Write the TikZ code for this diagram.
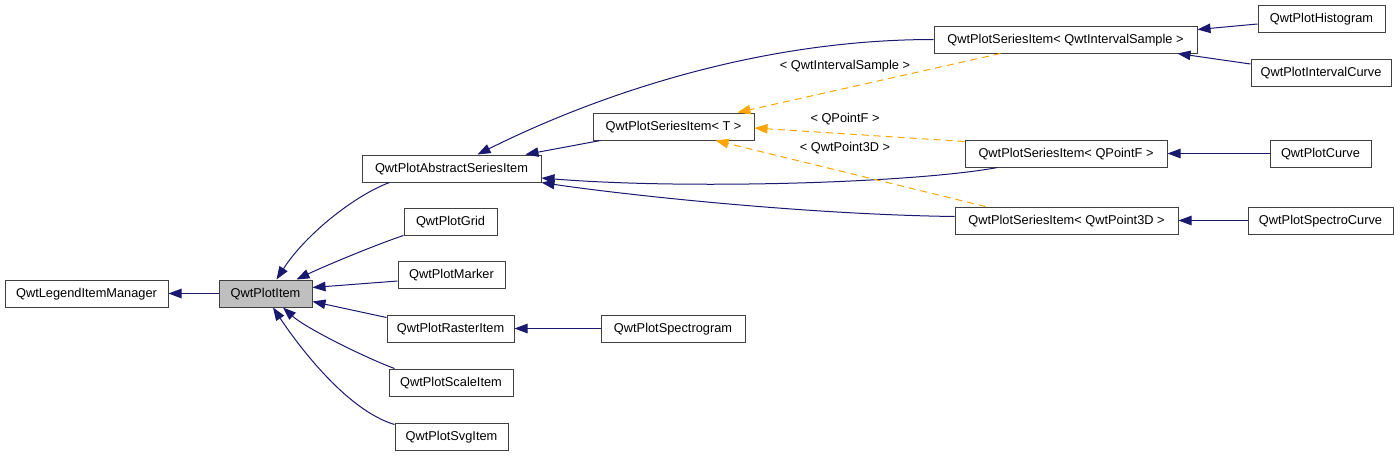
\documentclass[tikz,border=0pt]{standalone}
\usepackage{fontspec}
\setmainfont{Liberation Sans}
\usetikzlibrary{arrows.meta,calc}
\definecolor{edgeblue}{HTML}{191970}
\definecolor{edgeorange}{HTML}{FFA500}
\definecolor{boxgray}{HTML}{BFBFBF}
\definecolor{boxline}{HTML}{404040}
\begin{document}
\begin{tikzpicture}[x=1pt,y=-1pt,
  cls/.style={draw=boxline,line width=1pt,minimum height=27pt,inner sep=0pt,
    text height=9.7pt,text depth=2.5pt,
    font=\fontsize{12.8}{14}\selectfont,fill=white},
  inh/.style={draw=edgeblue,line width=1pt,-{Triangle[length=13pt,width=9.5pt]}},
  tmpl/.style={draw=edgeorange,line width=1pt,dash pattern=on 7pt off 5pt,
    -{Triangle[length=13pt,width=9.5pt]}},
  lbl/.style={font=\fontsize{12.8}{14}\selectfont,inner sep=0pt,text height=9.7pt,text depth=2.5pt}]
\useasboundingbox[fill=white] (0,0) rectangle (1400,456);
% nodes
\node[cls,minimum width=163pt] (lim) at (86.5,293.5) {QwtLegendItemManager};
\node[cls,minimum width=93pt,fill=boxgray] (item) at (265.5,293.5) {QwtPlotItem};
\node[cls,minimum width=179pt] (abs) at (451.5,168.5) {QwtPlotAbstractSeriesItem};
\node[cls,minimum width=93pt] (grid) at (450.5,221.5) {QwtPlotGrid};
\node[cls,minimum width=107pt] (marker) at (451.5,275) {QwtPlotMarker};
\node[cls,minimum width=127pt] (raster) at (450.5,328.5) {QwtPlotRasterItem};
\node[cls,minimum width=124pt] (scale) at (451,382.5) {QwtPlotScaleItem};
\node[cls,minimum width=113pt] (svg) at (451.5,436.5) {QwtPlotSvgItem};
\node[cls,minimum width=144pt] (spg) at (673,328.5) {QwtPlotSpectrogram};
\node[cls,minimum width=161pt] (T) at (673.5,126.5) {QwtPlotSeriesItem< T >};
\node[cls,minimum width=263pt] (int) at (1065.5,39.5) {QwtPlotSeriesItem< QwtIntervalSample >};
\node[cls,minimum width=202pt] (qpf) at (1066,153.5) {QwtPlotSeriesItem< QPointF >};
\node[cls,minimum width=223pt] (p3d) at (1066.5,220.5) {QwtPlotSeriesItem< QwtPoint3D >};
\node[cls,minimum width=127pt] (hist) at (1321.5,19) {QwtPlotHistogram};
\node[cls,minimum width=140pt] (ic) at (1321,73) {QwtPlotIntervalCurve};
\node[cls,minimum width=101pt] (curve) at (1320.5,153.5) {QwtPlotCurve};
\node[cls,minimum width=145pt] (sc) at (1320.5,220.5) {QwtPlotSpectroCurve};
% inheritance edges
\draw[inh] (item.west) -- (lim.east);
\draw[inh] ($(abs.south west)+(28,0)$) .. controls +(-35,13) and +(29,-45) .. ($(item.north)+(11,0)$);
\draw[inh] (grid.south west) .. controls +(-30,10) and +(25,-12) .. ($(item.north east)+(-16,0)$);
\draw[inh] ($(marker.west)+(0,6)$) -- ($(item.east)+(0,-6)$);
\draw[inh] ($(raster.north west)+(0,3)$) -- ($(item.east)+(0,8)$);
\draw[inh] ($(scale.north west)+(6,0)$) .. controls +(-32,-12) and +(22,20) .. ($(item.south)+(17.5,0)$);
\draw[inh] ($(svg.north west)+(0,2)$) .. controls +(-50,-15) and +(22,33) .. ($(item.south)+(7.5,0)$);
\draw[inh] (spg.west) -- (raster.east);
\draw[inh] ($(T.south west)+(8,0)$) -- ($(abs.north east)+(-16,0)$);
\draw[inh] (int.west) .. controls +(-190,0) and +(100,-50) .. ($(abs.north east)+(-64,0)$);
\draw[inh] ($(qpf.south west)+(33,0)$) .. controls +(-80,15) and +(150,12) .. ($(abs.east)+(0,9.5)$);
\draw[inh] ($(p3d.west)+(0,-4)$) .. controls +(-150,-2) and +(80,12) .. (abs.south east);
\draw[inh] ($(hist.west)+(0,5)$) -- ($(int.east)+(0,-10)$);
\draw[inh] ($(ic.north west)+(0,5)$) -- ($(int.south east)+(-20,0)$);
\draw[inh] (curve.west) -- (qpf.east);
\draw[inh] (sc.west) -- (p3d.east);
% template edges
\draw[tmpl] ($(int.south west)+(67,0)$) -- ($(T.north east)+(-17,0)$);
\draw[tmpl] ($(qpf.north west)+(0,2)$) -- ($(T.east)+(0,1.5)$);
\draw[tmpl] ($(p3d.north west)+(31,0)$) -- ($(T.south east)+(-39,0)$);
\node[lbl] (l1) at (845,66) {< QwtIntervalSample >};
\node[lbl] (l2) at (845,119) {< QPointF >};
\node[lbl] (l3) at (845,148) {< QwtPoint3D >};
\end{tikzpicture}
\end{document}
